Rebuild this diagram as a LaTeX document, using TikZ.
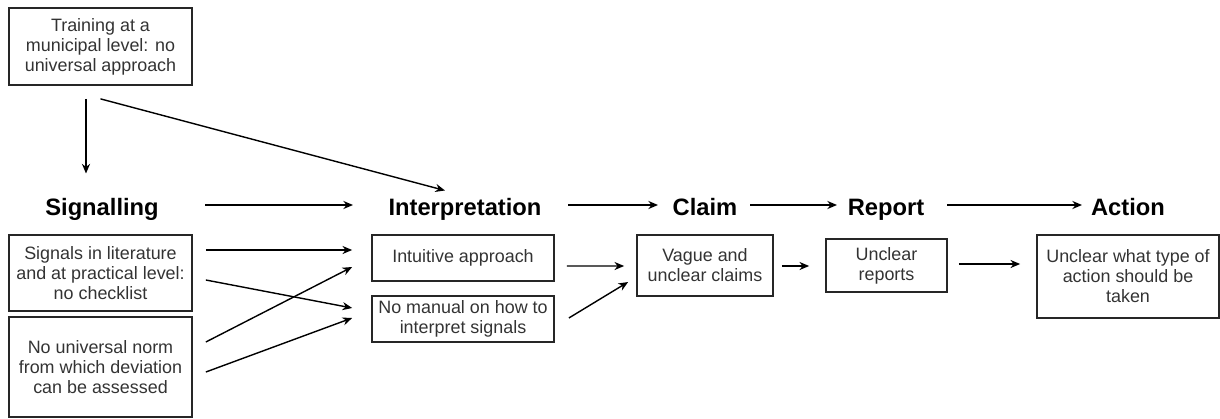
\documentclass[tikz,border=0pt]{standalone}
\usepackage{fontspec}
\setmainfont{Liberation Sans}
\usepackage{tikz}
\usetikzlibrary{arrows.meta}
\usetikzlibrary{calc}

\begin{document}
\begin{tikzpicture}[x=0.02cm, y=-0.02cm,
    box/.style={draw=black!85, line width=1pt, align=center, inner sep=0pt, text=black!80, font=\fontsize{10.2}{11.4}\selectfont},
    head/.style={inner sep=0pt, text height=9.7pt, text depth=0pt, font=\fontsize{13.5}{16}\selectfont\bfseries},
    arr/.style={-{Stealth[length=5.5pt,width=4.6pt]}, line width=0.8pt}]
            \useasboundingbox (0,0) rectangle (1220,419);
            % headings
            \node[head] (sigl) at (102,206.5) {Signalling};
            \node[head] (intl) at (465,206.5) {Interpretation};
            \node[head] (claiml) at (705,206.5) {Claim};
            \node[head] (repl) at (886,206.5) {Report};
            \node[head] (actl) at (1128,206.5) {Action};
            % boxes
            \node[box, minimum width=3.66cm, minimum height=1.54cm] (train) at (100.5,46.5) {Training at a\\municipal level: no\\universal approach};
            \node[box, minimum width=3.66cm, minimum height=1.52cm] (sigbox) at (100.5,273) {Signals in literature\\and at practical level:\\no checklist};
            \node[box, minimum width=3.66cm, minimum height=2.0cm] (normbox) at (100.5,367) {No universal norm\\from which deviation\\can be assessed};
            \node[box, minimum width=3.64cm, minimum height=0.92cm] (intu) at (463,258) {Intuitive approach};
            \node[box, minimum width=3.64cm, minimum height=0.92cm] (manual) at (463,319) {No manual on how to\\interpret signals};
            \node[box, minimum width=2.72cm, minimum height=1.22cm] (vague) at (705,265.5) {Vague and\\unclear claims};
            \node[box, minimum width=2.42cm, minimum height=1.06cm] (rep) at (886.5,265.5) {Unclear\\reports};
            \node[box, minimum width=3.64cm, minimum height=1.66cm] (act) at (1128,276.5) {Unclear what type of\\action should be\\taken};
            % arrows
            \draw[arr] ($(train.south)+(-14.5,13)$) -- ($(sigl.center)+(-16,-33)$);
            \draw[arr] ($(train.south)+(0,13)$) -- ($(intl.center)+(-20,-16)$);
            \draw[arr] ($(sigl.center)+(103,-1.5)$) -- ($(intl.center)+(-112,-1.5)$);
            \draw[arr] ($(intl.center)+(103,-1.5)$) -- ($(claiml.center)+(-47,-1.5)$);
            \draw[arr] ($(claiml.center)+(45,-1.5)$) -- ($(repl.center)+(-49,-1.5)$);
            \draw[arr] ($(repl.center)+(61,-1.5)$) -- ($(actl.center)+(-46,-1.5)$);
            \draw[arr] ($(sigbox.east)+(13,-23)$) -- ($(intu.west)+(-19,-8)$);
            \draw[arr] ($(sigbox.east)+(13,7)$) -- ($(manual.west)+(-19,-11)$);
            \draw[arr] ($(normbox.east)+(13,-25)$) -- ($(intu.west)+(-19,9)$);
            \draw[arr] ($(normbox.east)+(13,5)$) -- ($(manual.west)+(-19,-1)$);
            \draw[arr] ($(intu.east)+(12,8)$) -- ($(vague.west)+(-12,0.5)$);
            \draw[arr] ($(manual.east)+(14,-1)$) -- ($(vague.west)+(-8,16.5)$);
            \draw[arr] ($(vague.east)+(8,0.5)$) -- ($(rep.west)+(-16,0.5)$);
            \draw[arr] ($(rep.east)+(11,-1.5)$) -- ($(act.west)+(-16,-12.5)$);
        \end{tikzpicture}
\end{document}
